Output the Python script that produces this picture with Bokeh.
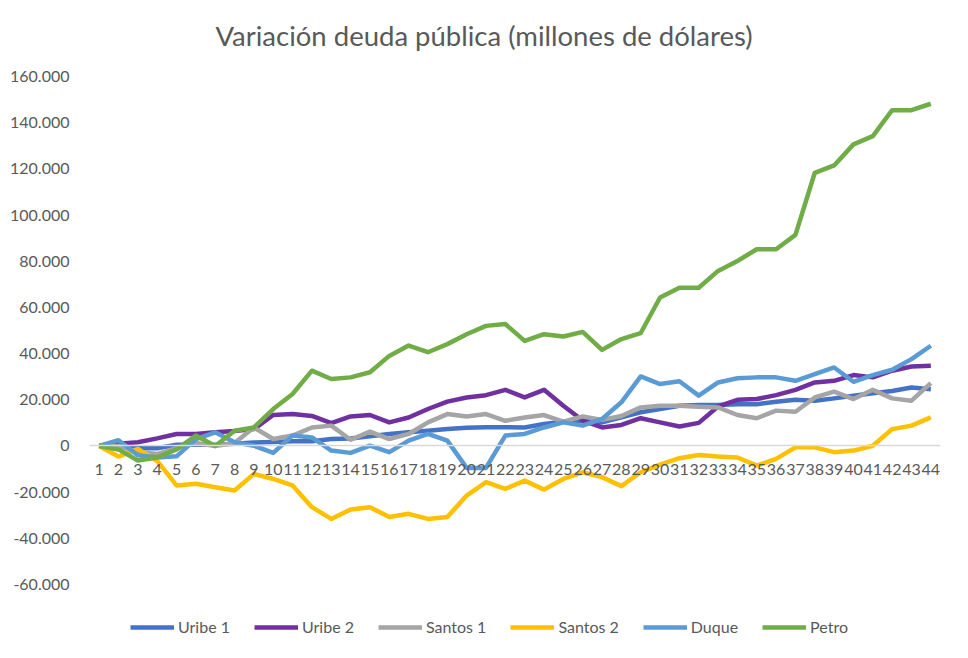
from bokeh.plotting import figure
from bokeh.models import Range1d, FixedTicker, Legend, LegendItem, Label
from bokeh.embed import file_html
from bokeh.resources import INLINE

periods = list(range(1, 45))

uribe1 = [0, 0, -1000, -1000, 500, 500, 500, 1000, 1500, 1700,
          2000, 2000, 3000, 3200, 4200, 5200, 5900, 6600, 7300, 7900,
          8100, 8100, 8000, 9500, 10500, 10900, 10200, 12400, 14600, 16000,
          17400, 17700, 17700, 18100, 18100, 19100, 20000, 19600, 20600, 21700,
          22800, 23800, 25300, 24600]
uribe2 = [0, 1000, 1600, 3300, 5200, 5200, 5900, 6500, 7300, 13400,
          13800, 13000, 9900, 12800, 13400, 10200, 12300, 16000, 19200, 21000,
          22000, 24300, 21000, 24300, 17400, 11000, 8000, 9100, 12000, 10200,
          8400, 10000, 17100, 20000, 20300, 22000, 24300, 27500, 28200, 30700,
          29700, 32600, 34400, 34700]
santos1 = [0, 0, -2700, -3500, -1000, 1300, 0, 1300, 8000, 3000,
           4500, 8000, 8800, 2700, 6200, 3000, 5200, 10200, 13800, 12800,
           13800, 10900, 12300, 13400, 10500, 12800, 11300, 13000, 16700, 17400,
           17400, 17000, 16700, 13400, 12000, 15300, 14800, 21000, 23500, 20300,
           24300, 20600, 19600, 27200]
santos2 = [0, -4600, -1300, -6500, -17100, -16400, -17900, -19300, -12100, -14300,
           -17100, -26500, -31600, -27500, -26500, -30800, -29400, -31600, -30800, -21500,
           -15700, -18600, -15000, -18900, -14300, -11400, -13500, -17400, -11400, -8100,
           -5300, -3900, -4600, -5000, -8500, -5600, -600, -600, -2700, -2000,
           100, 7300, 8800, 12400]
duque = [0, 2500, -4000, -5000, -4500, 3000, 5900, 1600, 100, -3000,
         4500, 3700, -2000, -3000, 100, -2700, 2300, 5200, 2300, -9500,
         -9500, 4500, 5200, 8000, 10200, 8800, 11700, 18900, 30100, 26800,
         28000, 21800, 27500, 29300, 29700, 29700, 28200, 31100, 34000, 27800,
         30700, 33000, 37600, 43400]
petro = [0, -1500, -6300, -5000, -1500, 4500, 0, 6600, 8000, 16000,
         22500, 32600, 29000, 29700, 31900, 39000, 43500, 40600, 44100, 48400,
         52000, 52800, 45500, 48400, 47400, 49400, 41600, 46300, 48900, 64300,
         68500, 68500, 75800, 80100, 85200, 85200, 91400, 118300, 121500, 130600,
         134200, 145400, 145400, 148200]

series_names = ["Uribe 1", "Uribe 2", "Santos 1", "Santos 2", "Duque", "Petro"]
series_values = [uribe1, uribe2, santos1, santos2, duque, petro]
series_colors = ["#4472C4", "#7030A0", "#A5A5A5", "#FFC000", "#5B9BD5", "#70AD47"]

y_ticks = [-60000, -40000, -20000, 0, 20000, 40000, 60000, 80000, 100000, 120000, 140000, 160000]
y_tick_labels = ["-60.000", "-40.000", "-20.000", "0", "20.000", "40.000", "60.000",
                 "80.000", "100.000", "120.000", "140.000", "160.000"]

chart_title = "Variación deuda pública (millones de dólares)"

FONT = "Lato"
GREY = "#595959"

# value axis 160.000 .. -60.000 spans 508 px; the frame is extended above (title)
# and below (legend) with the same scale
PX_PER_UNIT = 508 / 220000
TOP_BORDER = 10
AXIS_TOP_PX = 76          # pixel row of the 160.000 tick from the figure top
FRAME_H = 629
Y_MAX = 160000 + (AXIS_TOP_PX - TOP_BORDER) / PX_PER_UNIT
Y_MIN = Y_MAX - FRAME_H / PX_PER_UNIT
TITLE_Y = 160000 + 41 / PX_PER_UNIT
TITLE_X = 20.9

p = figure(frame_width=851, frame_height=FRAME_H,
           x_range=Range1d(0.5, 44.5), y_range=Range1d(Y_MIN, Y_MAX),
           output_backend="svg", toolbar_location=None,
           min_border_left=89, min_border_right=19, min_border_top=TOP_BORDER,
           min_border_bottom=0)

p.outline_line_color = None
p.xgrid.grid_line_color = None
p.ygrid.grid_line_color = None

p.add_layout(Label(x=TITLE_X, y=TITLE_Y, text=chart_title, text_align="center",
                   text_baseline="middle", text_font=FONT, text_font_size="27.5px",
                   text_color=GREY))

p.yaxis.ticker = FixedTicker(ticks=y_ticks)
p.yaxis.major_label_overrides = {t: l for t, l in zip(y_ticks, y_tick_labels)}
p.yaxis.axis_line_color = None
p.yaxis.major_tick_line_color = None
p.yaxis.minor_tick_line_color = None
p.yaxis.major_label_text_font = FONT
p.yaxis.major_label_text_font_size = "16px"
p.yaxis.major_label_text_color = GREY
p.yaxis.major_label_standoff = 14

p.xaxis.ticker = FixedTicker(ticks=periods)
p.xaxis.fixed_location = 0
p.xaxis.axis_line_color = "#D9D9D9"
p.xaxis.axis_line_width = 1.5
p.xaxis.major_tick_line_color = None
p.xaxis.minor_tick_line_color = None
p.xaxis.major_label_text_font = FONT
p.xaxis.major_label_text_font_size = "16px"
p.xaxis.major_label_text_color = GREY
p.xaxis.major_label_standoff = 12

items = []
for name, vals, col in zip(series_names, series_values, series_colors):
    r = p.line(periods, vals, line_color=col, line_width=4.5, line_join="round")
    items.append(LegendItem(label=name, renderers=[r]))

legend = Legend(items=items, orientation="horizontal", location=(41, 3),
                border_line_color=None, background_fill_alpha=0,
                label_text_font=FONT, label_text_font_size="16px", label_text_color=GREY,
                glyph_width=44, glyph_height=16, label_standoff=4, spacing=24,
                padding=4, margin=0)
p.add_layout(legend, "center")

open("out.html", "w").write(file_html(p, INLINE))
